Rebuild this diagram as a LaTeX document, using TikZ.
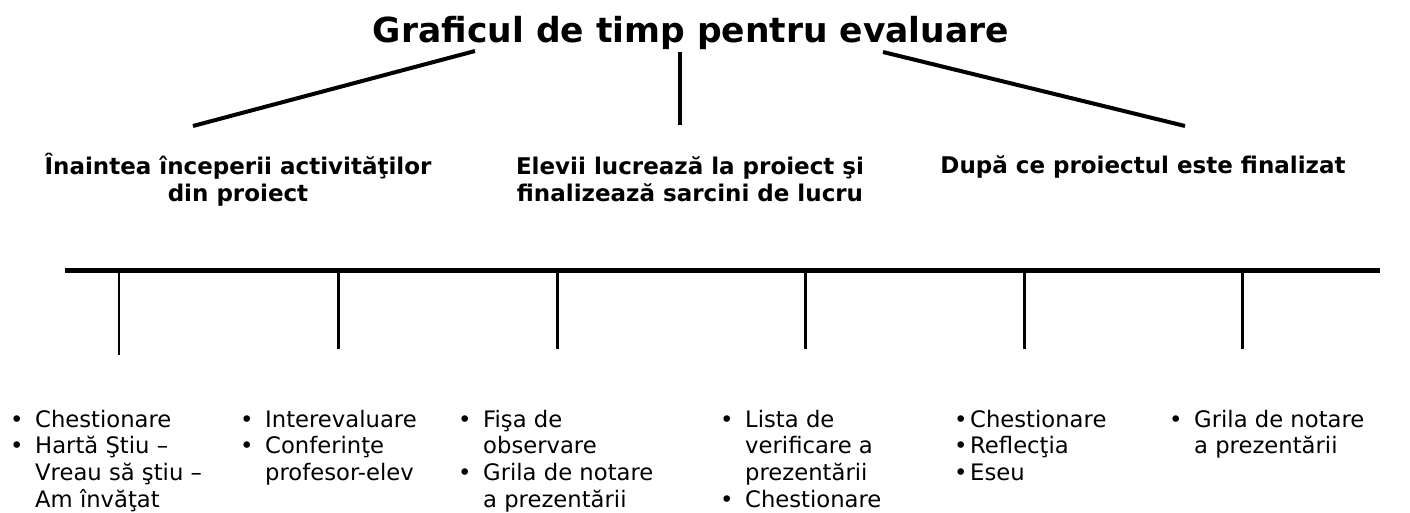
\documentclass[tikz,border=0pt]{standalone}
\usepackage{fontspec}
\setmainfont{DejaVu Sans}
\usepackage{tikz}

\newcommand{\bul}[1][25pt]{\makebox[#1][l]{•}}
\newcommand{\ind}{\hspace*{25pt}}

\begin{document}
\begin{tikzpicture}[x=1pt,y=-1pt,
  title/.style={font=\bfseries\fontsize{34.5}{40}\selectfont, inner sep=0pt, anchor=base},
  head/.style={font=\bfseries\fontsize{23}{28}\selectfont, inner sep=0pt, align=center, anchor=base},
  items/.style={font=\fontsize{22.7}{26.8}\selectfont, inner sep=0pt, align=left, anchor=base west},
  bar/.style={line width=4pt},
  tick/.style={line width=3pt}]
  \useasboundingbox (0,0) rectangle (1410,513);

  \node[title] (title) at (691,43) {Graficul de timp pentru evaluare};

  \coordinate (la) at (475,51);
  \coordinate (lb) at (193,126);
  \coordinate (ma) at (680,52);
  \coordinate (mb) at (680,125);
  \coordinate (ra) at (883,52);
  \coordinate (rb) at (1185,126);
  \draw[bar] (la) -- (lb);
  \draw[bar, line width=3.5pt] (ma) -- (mb);
  \draw[bar] (ra) -- (rb);

  % base = last line
  \node[head] (before) at (238,202) {Înaintea începerii activităţilor\\din proiect};
  \node[head] (during) at (690,202) {Elevii lucrează la proiect şi\\finalizează sarcini de lucru};
  \node[head] (after) at (1143,174) {După ce proiectul este finalizat};

  \coordinate (tl0) at (65,270);
  \coordinate (tl1) at (1380,270);
  \draw[line width=5pt] (tl0) -- (tl1);

  \coordinate (ta1) at (119,270);
  \coordinate (tb1) at (119,355);
  \draw[line width=1.5pt] (ta1) -- (tb1);
  \foreach \i/\x in {2/338,3/557,4/805,5/1024,6/1242}{
    \coordinate (ta\i) at (\x,270);
    \coordinate (tb\i) at (\x,349);
    \draw[tick] (ta\i) -- (tb\i);
  }

  \node[items] (list1) at (10,507.4) {\bul Chestionare\\\bul Hartă Ştiu –\\\ind Vreau să ştiu –\\\ind Am învăţat};
  \node[items] (list2) at (240,480.6) {\bul Interevaluare\\\bul Conferinţe\\\ind profesor-elev};
  \node[items] (list3) at (458,507.4) {\bul Fişa de\\\ind observare\\\bul Grila de notare\\\ind a prezentării};
  \node[items] (list4) at (720,507.4) {\bul Lista de\\\ind verificare a\\\ind prezentării\\\bul Chestionare};
  \node[items] (list5) at (954,480.6) {\bul[16pt]Chestionare\\\bul[16pt]Reflecţia\\\bul[16pt]Eseu};
  \node[items] (list6) at (1169,453.8) {\bul Grila de notare\\\ind a prezentării};
\end{tikzpicture}
\end{document}
